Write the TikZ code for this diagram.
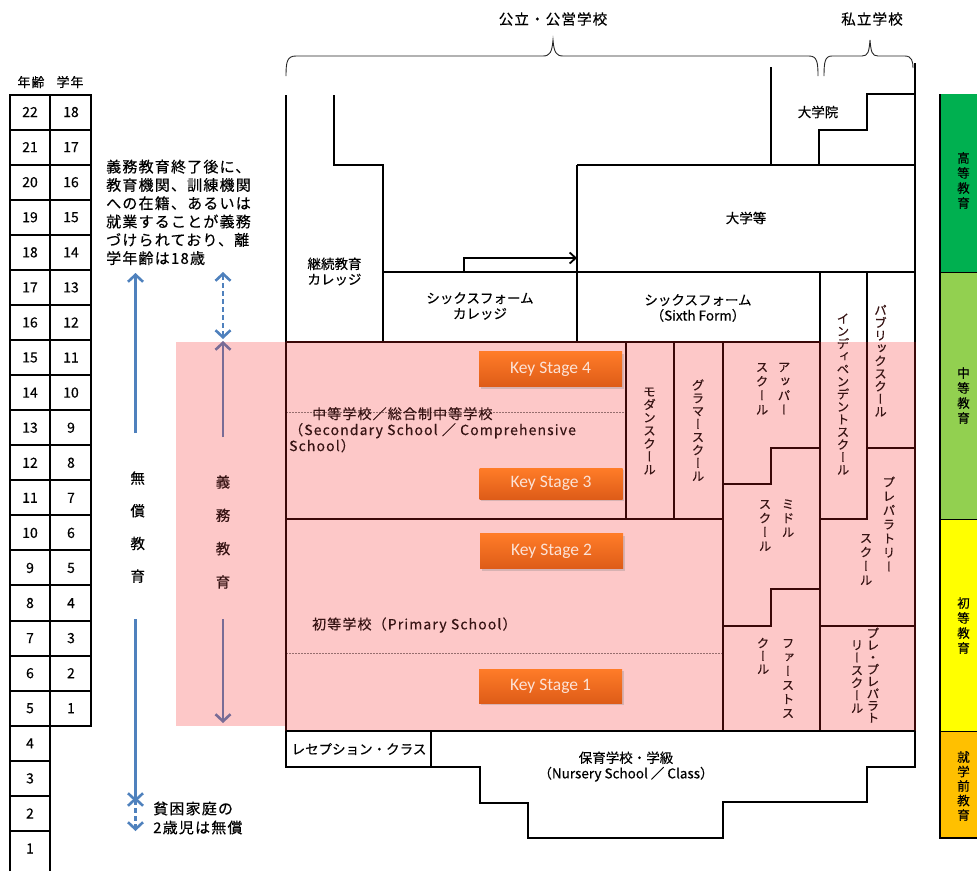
\documentclass[tikz,border=0pt]{standalone}
\usepackage{fontspec}
\setmainfont{Noto Sans CJK JP}
\newfontfamily\jp[FakeBold=0.35]{Noto Sans CJK JP}
\newfontfamily\jpsp[LetterSpace=8,FakeBold=0.35]{Noto Sans CJK JP}
\newfontfamily\jpv[RawFeature=+vert,FakeBold=0.35]{Noto Sans CJK JP}
\newfontfamily\ksf{Carlito}
\usetikzlibrary{arrows.meta,shadows}

\definecolor{pinkbg}{RGB}{253,200,200}
\definecolor{lnmar}{RGB}{58,8,8}
\definecolor{txmar}{RGB}{55,20,20}
\definecolor{arrblue}{RGB}{79,129,189}
\definecolor{arrpur}{RGB}{120,108,150}
\definecolor{kstop}{RGB}{255,124,40}
\definecolor{ksbot}{RGB}{222,92,24}
\definecolor{kstext}{RGB}{252,226,214}
\definecolor{ghigh}{RGB}{0,176,80}
\definecolor{gmid}{RGB}{146,208,80}
\definecolor{yprim}{RGB}{255,255,0}
\definecolor{opre}{RGB}{255,192,0}
\definecolor{dashgray}{RGB}{150,110,110}

\tikzset{
  tbl/.style={line width=2pt, black},
  wall/.style={line width=1.8pt, black},
  pwall/.style={line width=1.8pt, lnmar},
  num/.style={font=\jp\fontsize{14}{14}\selectfont, inner sep=0pt},
  lbl/.style={font=\jp\fontsize{13.5}{15.5}\selectfont, align=center, inner sep=0pt},
  vch/.style={font=\jpv\fontsize{12.5}{12.5}\selectfont, inner sep=0pt, text height=11pt, text depth=1.5pt, text=txmar},
  bch/.style={font=\jp\fontsize{12.5}{12.5}\selectfont, inner sep=0pt, text height=11pt, text depth=1.5pt},
  bigch/.style={font=\jp\fontsize{14.5}{14.5}\selectfont, inner sep=0pt, text height=12.8pt, text depth=1.7pt},
  ksbox/.style={top color=kstop, bottom color=ksbot, minimum width=143pt, minimum height=35pt,
    inner sep=0pt, text=kstext, font=\ksf\fontsize{17.5}{20}\selectfont,
    drop shadow={opacity=0.3, shadow xshift=1.5pt, shadow yshift=-2pt}},
  chev/.tip={Straight Barb[length=7pt,width=15pt]},
  barrow/.style={line width=2.6pt, arrblue},
  parrow/.style={line width=2.6pt, arrpur},
  brace/.style={line width=0.9pt, black!85},
  dline/.style={line width=0.6pt, dashgray, dash pattern=on 2pt off 1pt},
}
\newcommand{\vstk}[6][vch]{\foreach \c [count=\k from 0] in {#6} {\node[#1] (#2-\k) at (#3,{#4+\k*#5}) {\c};}}

\begin{document}
\begin{tikzpicture}[x=1pt,y=-1pt]
\useasboundingbox (0,0) rectangle (977,871);

% ---------------- left table ----------------
\node[font=\jpsp\fontsize{13}{13}\selectfont, inner sep=0pt] (hAge) at (31,82) {年齢};
\node[font=\jpsp\fontsize{13}{13}\selectfont, inner sep=0pt] (hGr) at (70,82) {学年};
\foreach \i in {0,...,17}{
  \pgfmathsetmacro\yt{94.5+\i*35.07}
  \pgfmathsetmacro\yb{94.5+(\i+1)*35.07}
  \pgfmathtruncatemacro\age{22-\i}
  \pgfmathtruncatemacro\gr{18-\i}
  \draw[tbl] (10,\yt) rectangle (50,\yb);
  \draw[tbl] (50,\yt) rectangle (91,\yb);
  \node[num] (age\age) at (30,{(\yt+\yb)/2}) {\age};
  \node[num] (gr\gr) at (71,{(\yt+\yb)/2}) {\gr};
}
\foreach \i in {18,...,20}{
  \pgfmathsetmacro\yt{94.5+\i*35.07}
  \pgfmathsetmacro\yb{94.5+(\i+1)*35.07}
  \pgfmathtruncatemacro\age{22-\i}
  \draw[tbl] (10,\yt) rectangle (50,\yb);
  \node[num] (age\age) at (30,{(\yt+\yb)/2}) {\age};
}
\draw[tbl] (10,871) -- (10,830.97) -- (50,830.97) -- (50,871);
\node[num] (age1) at (30,848.5) {1};

% ---------------- notes and arrows at left ----------------
\node[font=\jpsp\fontsize{15}{18.3}\selectfont, align=left, anchor=north west, inner sep=0pt] (note)
  at (106,159.5) {義務教育終了後に、\\教育機関、訓練機関\\への在籍、あるいは\\就業することが義務\\づけられており、離\\学年齢は18歳};

\fill[pinkbg] (176,342) rectangle (286,726);
\fill[pinkbg] (286,342) rectangle (915,731);

\vstk[bigch]{fr}{137.7}{478}{32.7}{無,償,教,育}
\vstk[bigch,text=txmar]{cp}{223}{482}{33.3}{義,務,教,育}

\coordinate (fTop) at (135.5,273);
\coordinate (fA) at (135.5,433);
\coordinate (fB) at (135.5,619);
\coordinate (fBot) at (135.5,802);
\coordinate (fdA) at (135.5,797);
\coordinate (fdB) at (135.5,831);
\draw[barrow,-chev] (fA) -- (fTop);
\draw[barrow,-chev] (fB) -- (fBot);
\draw[barrow,dash pattern=on 5pt off 3pt,chev-chev] (fdA) -- (fdB);

\coordinate (cTop) at (223,272);
\coordinate (cMid) at (223,339);
\coordinate (cMid2) at (223,341);
\coordinate (cA) at (223,437);
\coordinate (cB) at (223,619);
\coordinate (cBot) at (223,723);
\draw[barrow,dash pattern=on 5pt off 3pt,chev-chev] (cTop) -- (cMid);
\draw[parrow,-chev] (cA) -- (cMid2);
\draw[parrow,-chev] (cB) -- (cBot);

\node[font=\jpsp\fontsize{15}{19}\selectfont, align=left, anchor=west, inner sep=0pt] (poor)
  at (153,818) {貧困家庭の\\2歳児は無償};

% ---------------- braces and headings ----------------
\node[font=\jpsp\fontsize{14.5}{14.5}\selectfont, inner sep=0pt] (pub) at (553,19) {公立・公営学校};
\node[font=\jpsp\fontsize{14.5}{14.5}\selectfont, inner sep=0pt] (priv) at (872,19) {私立学校};
\draw[brace] (286,76) .. controls (286,62) and (287,56) .. (296,56) -- (543,56)
  .. controls (550,56) and (552,52) .. (553,40) .. controls (554,52) and (556,56) .. (563,56)
  -- (809,56) .. controls (817,56) and (818,62) .. (818,76);
\draw[brace] (824,76) .. controls (824,62) and (825,56) .. (832,56) -- (862,56)
  .. controls (868,56) and (869,52) .. (870,40) .. controls (871,52) and (872,56) .. (878,56)
  -- (905,56) .. controls (912,56) and (913,62) .. (913,68);

% ---------------- upper (white) structure ----------------
\draw[wall] (286,95) -- (286,342);
\draw[wall] (334,95) -- (334,165) -- (383,165) -- (383,342);
\draw[wall] (383,272) -- (915,272);
\draw[wall] (577,165) -- (577,342);
\draw[wall] (577,165) -- (915,165);
\draw[wall] (771,67) -- (771,165);
\draw[wall] (819,165) -- (819,130) -- (867,130) -- (867,94) -- (915,94);
\draw[wall] (915,63) -- (915,342);
\draw[wall] (820,272) -- (820,342);
\draw[wall] (867,272) -- (867,342);
\draw[wall,-{Straight Barb[length=6pt,width=11pt]}] (464,272) -- (464,258) -- (577,258);

\node[lbl] (grad) at (818,112) {大学院};
\node[lbl] (univ) at (746,218) {大学等};
\node[lbl] (fecol) at (334.5,271.5) {継続教育\\カレッジ};
\node[lbl] (sfcol) at (480,306) {シックスフォーム\\カレッジ};
\node[lbl] (sixth) at (698,308) {シックスフォーム\\（Sixth Form）};

% ---------------- pink (compulsory) structure ----------------
\draw[dline] (286,412) -- (626,412);
\draw[dline] (286,653) -- (723,653);
\draw[pwall] (286,342) -- (820,342);
\draw[pwall] (286,342) -- (286,731);
\draw[pwall] (626,342) -- (626,519);
\draw[pwall] (674,342) -- (674,519);
\draw[pwall] (723,342) -- (723,731);
\draw[pwall] (286,519) -- (723,519);
\draw[pwall] (723,484) -- (771,484) -- (771,448) -- (820,448);
\draw[pwall] (723,626) -- (771,626) -- (771,589) -- (820,589);
\draw[pwall] (820,342) -- (820,731);
\draw[pwall] (867,342) -- (867,519) -- (820,519);
\draw[pwall] (867,448) -- (915,448);
\draw[pwall] (820,626) -- (915,626);
\draw[pwall] (915,342) -- (915,731);

\node[ksbox] (ks4) at (550.5,369) {Key Stage 4};
\node[ksbox,minimum height=31pt] (ks3) at (551,483.5) {Key Stage 3};
\node[ksbox] (ks2) at (551.5,551) {Key Stage 2};
\node[ksbox,minimum height=34pt] (ks1) at (550.5,686) {Key Stage 1};

\node[font=\jpsp\fontsize{14}{16}\selectfont, align=left, anchor=north west, inner sep=0pt, text=txmar] (sec)
  at (289,407) {\hspace*{23pt}中等学校／総合制中等学校\\（Secondary School ／ Comprehensive\\School）};
\node[font=\jpsp\fontsize{14}{16}\selectfont, anchor=west, inner sep=0pt, text=txmar] (prim)
  at (312,625) {初等学校（Primary School）};

\vstk{mod}{649.5}{391.5}{13}{モ,ダ,ン,ス,ク,ー,ル}
\vstk{gram}{698}{385}{13}{グ,ラ,マ,ー,ス,ク,ー,ル}
\vstk{upR}{784}{367}{14.2}{ア,ッ,パ,ー}
\vstk{upL}{762}{367}{14.2}{ス,ク,ー,ル}
\vstk{midR}{788}{504}{14}{ミ,ド,ル}
\vstk{midL}{765}{504}{14}{ス,ク,ー,ル}
\vstk{fstR}{788}{643}{14}{フ,ァ,ー,ス,ト,ス}
\vstk{fstL}{763}{643}{13}{ク,ー,ル}
\vstk{ind}{843}{318.5}{12.6}{イ,ン,デ,ィ,ペ,ン,デ,ン,ト,ス,ク,ー,ル}
\vstk{pubs}{880.5}{310}{12.7}{パ,ブ,リ,ッ,ク,ス,ク,ー,ル}
\vstk{prpR}{889}{482}{14.1}{プ,レ,パ,ラ,ト,リ,ー}
\vstk{prpL}{866}{538}{14}{ス,ク,ー,ル}
\vstk{ppR}{873}{633}{12.1}{プ,レ,・,プ,レ,パ,ラ,ト}
\vstk{ppL}{857}{645}{12.6}{リ,ー,ス,ク,ー,ル}

% ---------------- nursery ----------------
\draw[wall] (286,731) -- (915,731);
\draw[wall] (286,731) -- (286,767) -- (431,767) -- (431,731);
\draw[wall] (431,767) -- (480,767) -- (480,803) -- (528,803) -- (528,838) -- (723,838)
  -- (723,802) -- (867,802) -- (867,767) -- (915,767) -- (915,731);
\node[lbl] (recep) at (359,749) {レセプション・クラス};
\node[lbl] (nurs) at (626,766.5) {保育学校・学級\\（Nursery School ／ Class）};

% ---------------- right colour bar ----------------
\fill[ghigh] (940,94) rectangle (977,272);
\fill[gmid] (940,272) rectangle (977,519);
\fill[yprim] (940,519) rectangle (977,731);
\fill[opre] (940,731) rectangle (977,838);
\draw[line width=0.6pt] (940,272) -- (977,272) (940,519) -- (977,519) (940,731) -- (977,731);
\draw[line width=1.5pt] (940,94) -- (940,838) -- (977,838);
\vstk[bch]{hi}{963.5}{158}{15}{高,等,教,育}
\vstk[bch]{se}{963.5}{373}{15}{中,等,教,育}
\vstk[bch]{pr}{963.5}{603}{15}{初,等,教,育}
\vstk[bch]{pre}{963.5}{757}{14.5}{就,学,前,教,育}
\end{tikzpicture}
\end{document}
